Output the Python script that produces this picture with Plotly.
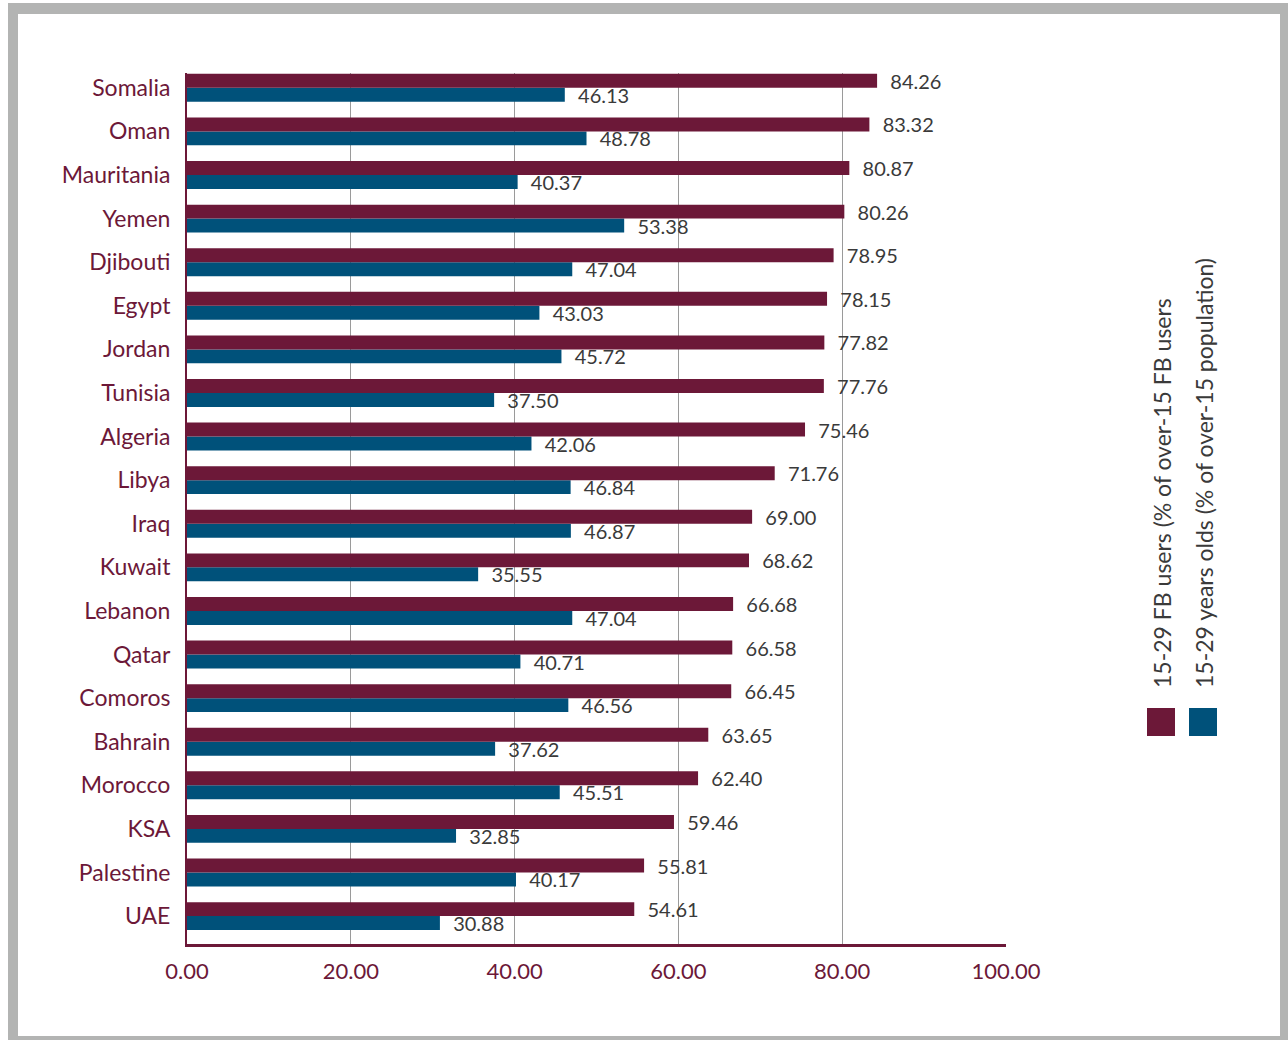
import plotly.graph_objects as go

# Countries listed top to bottom as shown
countries = ["Somalia", "Oman", "Mauritania", "Yemen", "Djibouti", "Egypt", "Jordan",
             "Tunisia", "Algeria", "Libya", "Iraq", "Kuwait", "Lebanon", "Qatar",
             "Comoros", "Bahrain", "Morocco", "KSA", "Palestine", "UAE"]
fb_users_15_29 = [84.26, 83.32, 80.87, 80.26, 78.95, 78.15, 77.82, 77.76, 75.46, 71.76,
                  69.00, 68.62, 66.68, 66.58, 66.45, 63.65, 62.40, 59.46, 55.81, 54.61]
pop_15_29 = [46.13, 48.78, 40.37, 53.38, 47.04, 43.03, 45.72, 37.50, 42.06, 46.84,
             46.87, 35.55, 47.04, 40.71, 46.56, 37.62, 45.51, 32.85, 40.17, 30.88]
series_names = ["15-29 FB users (% of over-15 FB users",
                "15-29 years olds (% of over-15 population)"]
x_ticks = [0, 20, 40, 60, 80, 100]

MAROON = "#6C1838"
TEAL = "#00517A"
LABEL = "#3A3A3A"
FONT = "Lato, 'Open Sans', sans-serif"

W, H = 1288, 1040
L, R, T, B = 187, 1006, 73, 944  # plot area in pixels


def px_x(p):
    return (p - L) / (R - L)


def px_y(p):
    return (B - p) / (B - T)


fig = go.Figure()

pad = "\u00a0\u00a0"
# Teal first so it sits below the maroon bar within each group
fig.add_trace(go.Bar(
    y=countries, x=pop_15_29, orientation="h", name=series_names[1],
    marker=dict(color=TEAL, line=dict(width=0)),
    text=[pad + f"{v:.2f}" for v in pop_15_29], textposition="outside",
    textfont=dict(family=FONT, size=20, color=LABEL), constraintext="none",
    cliponaxis=False,
))
fig.add_trace(go.Bar(
    y=countries, x=fb_users_15_29, orientation="h", name=series_names[0],
    marker=dict(color=MAROON, line=dict(width=0)),
    text=[pad + f"{v:.2f}" for v in fb_users_15_29], textposition="outside",
    textfont=dict(family=FONT, size=20, color=LABEL), constraintext="none",
    cliponaxis=False,
))

shapes = [
    # grey frame around the page
    dict(type="rect", xref="paper", yref="paper", layer="below",
         x0=px_x(8), x1=px_x(1292), y0=px_y(1044), y1=px_y(3),
         fillcolor="#B3B4B3", line=dict(width=0)),
    dict(type="rect", xref="paper", yref="paper", layer="below",
         x0=px_x(18), x1=px_x(1280), y0=px_y(1036), y1=px_y(14),
         fillcolor="white", line=dict(width=0)),
    # legend swatches
    dict(type="rect", xref="paper", yref="paper",
         x0=px_x(1147), x1=px_x(1175), y0=px_y(736), y1=px_y(708),
         fillcolor=MAROON, line=dict(width=0)),
    dict(type="rect", xref="paper", yref="paper",
         x0=px_x(1189), x1=px_x(1217), y0=px_y(736), y1=px_y(708),
         fillcolor=TEAL, line=dict(width=0)),
]

annotations = [
    dict(text=series_names[0], xref="paper", yref="paper",
         x=px_x(1162), y=px_y(690), xanchor="center", yanchor="bottom",
         textangle=-90, showarrow=False,
         font=dict(family=FONT, size=23, color=LABEL)),
    dict(text=series_names[1], xref="paper", yref="paper",
         x=px_x(1204), y=px_y(690), xanchor="center", yanchor="bottom",
         textangle=-90, showarrow=False,
         font=dict(family=FONT, size=23, color=LABEL)),
]

fig.update_layout(
    width=W, height=H,
    margin=dict(l=L, r=W - R, t=T, b=H - B, pad=0),
    paper_bgcolor="white", plot_bgcolor="rgba(0,0,0,0)",
    barmode="group", bargap=0.36, bargroupgap=0,
    showlegend=False,
    shapes=shapes, annotations=annotations,
    xaxis=dict(
        range=[0, 100], tickvals=x_ticks, ticktext=[f"{v:.2f}" for v in x_ticks],
        showgrid=True, gridcolor="#9A9A9A", gridwidth=1, zeroline=False,
        showline=True, linecolor=MAROON, linewidth=3,
        ticks="", ticklabelstandoff=6,
        tickfont=dict(family=FONT, size=22, color=MAROON),
    ),
    yaxis=dict(
        categoryorder="array", categoryarray=countries[::-1],
        range=[-0.64, 19.34],
        showgrid=False, zeroline=False,
        showline=True, linecolor=MAROON, linewidth=2,
        ticks="", ticklabelstandoff=10,
        tickfont=dict(family=FONT, size=23, color=MAROON),
    ),
)

fig.write_html("out.html")
